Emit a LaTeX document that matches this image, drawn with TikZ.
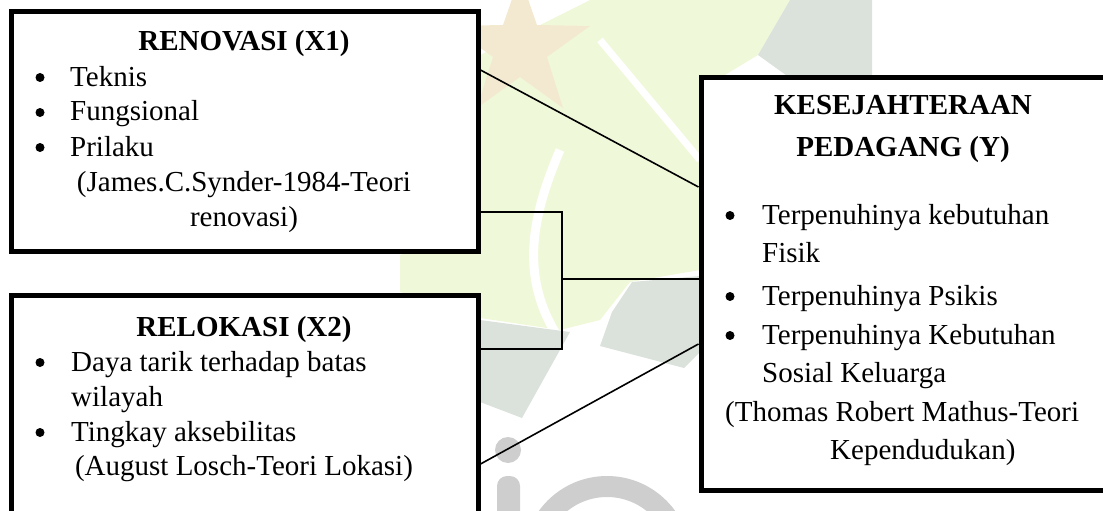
\documentclass[tikz,border=0pt]{standalone}
\usepackage{fontspec}
\setmainfont{Liberation Serif}
\definecolor{wmgreen}{RGB}{240,248,218}
\definecolor{wmgray}{RGB}{219,226,219}
\definecolor{wmbeige}{RGB}{243,233,209}
\definecolor{wmio}{RGB}{206,206,206}
\begin{document}
\begin{tikzpicture}[x=1pt,y=-1pt,
  box/.style={draw=black, line width=5pt, fill=white, inner sep=0pt},
  conn/.style={draw=black, line width=1.6pt},
  txt/.style={inner sep=0pt, font=\fontsize{29}{35}\selectfont},
  ttl/.style={inner sep=0pt, font=\fontsize{29}{35}\selectfont\bfseries},
  dot/.style={fill=black, circle, inner sep=0pt, minimum size=9pt}]
\useasboundingbox (0,0) rectangle (1103,511);
\clip (0,0) rectangle (1103,511);
% watermark (faint background)
\fill[wmgreen] (400,255) -- (470,230) -- (470,60) -- (590,0) -- (790,0) -- (758,55) -- (700,90) -- (700,270) -- (630,282) -- (600,320) -- (560,330) -- (480,318) -- (400,292) -- cycle;
\draw[white, line width=9pt] (560,150) .. controls (530,220) and (520,280) .. (560,340);
\draw[white, line width=7pt] (600,40) -- (700,160);
\fill[wmgray] (480,320) -- (570,332) -- (522,418) -- (480,402) -- cycle;
\fill[wmgray] (632,282) -- (700,276) -- (700,352) -- (684,368) -- (600,346) -- (612,312) -- cycle;
\fill[wmgray] (790,0) -- (872,0) -- (872,78) -- (790,78) -- (758,55) -- cycle;
\fill[wmbeige] (520,-24) -- (537,25) -- (590,26) -- (547,57) -- (563,108) -- (520,77) -- (477,108) -- (493,57) -- (450,26) -- (503,25) -- cycle;
\fill[wmio] (508,450) circle[radius=13];
\fill[wmio, rounded corners=10pt] (497,476) rectangle (520,530);
\fill[wmio, even odd rule] (607,560) circle[radius=84] (607,560) circle[radius=63];
% boxes
\node[box, minimum width=467pt, minimum height=239pt] (ren) at (244.5,131.5) {};
\node[box, minimum width=467pt, minimum height=240pt] (rel) at (244.5,415) {};
\node[box, minimum width=411pt, minimum height=413pt] (kes) at (906.5,284) {};
% connectors
\coordinate (u1) at (0,70);
\coordinate (u2) at (0,187);
\coordinate (jt) at (562,212);
\coordinate (jb) at (562,349);
\coordinate (jm) at (562,279);
\coordinate (l1) at (0,464);
\coordinate (l2) at (0,344);
\draw[conn] (ren.east |- u1) -- (kes.west |- u2);
\draw[conn] (ren.east |- jt) -- (jt) -- (jb) -- (rel.east |- jb);
\draw[conn] (jm) -- (kes.west |- jm);
\draw[conn] (rel.east |- l1) -- (kes.west |- l2);
% box 1 text
\node[ttl, anchor=base] (rent) at (244,51) {RENOVASI (X1)};
\node[dot] (rd1) at (40,77.5) {};
\node[txt, anchor=base west] (ra) at (70,86) {Teknis};
\node[dot] (rd2) at (40,112.5) {};
\node[txt, anchor=base west] (rb) at (70,121) {Fungsional};
\node[dot] (rd3) at (40,147.5) {};
\node[txt, anchor=base west] (rc) at (70,156) {Prilaku};
\node[txt, anchor=base] (rs1) at (244,191) {(James.C.Synder-1984-Teori};
\node[txt, anchor=base] (rs2) at (244,226) {renovasi)};
% box 2 text
\node[ttl, anchor=base] (relt) at (244,336) {RELOKASI (X2)};
\node[dot] (ld1) at (40,362.5) {};
\node[txt, anchor=base west] (la) at (71,371) {Daya tarik terhadap batas};
\node[txt, anchor=base west] (lb) at (71,406) {wilayah};
\node[dot] (ld2) at (40,432.5) {};
\node[txt, anchor=base west] (lc) at (71,441) {Tingkay aksebilitas};
\node[txt, anchor=base] (ls) at (244,475) {(August Losch-Teori Lokasi)};
% box 3 text
\node[ttl, anchor=base] (kt1) at (903,114) {KESEJAHTERAAN};
\node[ttl, anchor=base] (kt2) at (903,156) {PEDAGANG (Y)};
\node[dot] (kd1) at (730,215.5) {};
\node[txt, anchor=base west] (ka) at (762,224) {Terpenuhinya kebutuhan};
\node[txt, anchor=base west] (kb) at (762,262) {Fisik};
\node[dot] (kd2) at (730,296.5) {};
\node[txt, anchor=base west] (kc) at (762,305) {Terpenuhinya Psikis};
\node[dot] (kd3) at (730,335.5) {};
\node[txt, anchor=base west] (kd) at (762,344) {Terpenuhinya Kebutuhan};
\node[txt, anchor=base west] (ke) at (762,382) {Sosial Keluarga};
\node[txt, anchor=base west] (ks1) at (725,421) {(Thomas Robert Mathus-Teori};
\node[txt, anchor=base west] (ks2) at (830,459) {Kependudukan)};
\end{tikzpicture}
\end{document}
